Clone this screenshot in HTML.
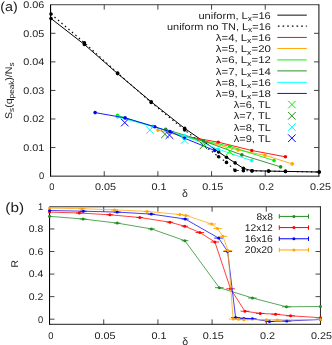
<!DOCTYPE html>
<html><head><meta charset="utf-8"><title>chart</title>
<style>
html,body{margin:0;padding:0;background:#fff;}
svg{display:block;will-change:transform;font-family:"Liberation Sans",sans-serif;}
svg text{font-family:"Liberation Sans",sans-serif;fill:#1c1c1c;text-rendering:geometricPrecision;}
</style></head>
<body>
<svg width="332" height="345" viewBox="0 0 332 345">
<rect x="0" y="0" width="332" height="345" fill="#fff"/>
<line x1="50.55" y1="4.45" x2="50.55" y2="176.60" stroke="#000" stroke-width="1.1" />
<line x1="50.55" y1="4.72" x2="319.30" y2="4.72" stroke="#000" stroke-width="0.75" />
<line x1="318.90" y1="4.45" x2="318.90" y2="176.60" stroke="#111" stroke-width="1.05" />
<line x1="50.05" y1="176.15" x2="319.30" y2="176.15" stroke="#111" stroke-width="0.95" />
<line x1="104.22" y1="176.10" x2="104.22" y2="171.20" stroke="#222" stroke-width="0.85" />
<line x1="104.22" y1="4.75" x2="104.22" y2="9.65" stroke="#222" stroke-width="0.85" />
<line x1="157.89" y1="176.10" x2="157.89" y2="171.20" stroke="#222" stroke-width="0.85" />
<line x1="157.89" y1="4.75" x2="157.89" y2="9.65" stroke="#222" stroke-width="0.85" />
<line x1="211.56" y1="176.10" x2="211.56" y2="171.20" stroke="#222" stroke-width="0.85" />
<line x1="211.56" y1="4.75" x2="211.56" y2="9.65" stroke="#222" stroke-width="0.85" />
<line x1="265.23" y1="176.10" x2="265.23" y2="171.20" stroke="#222" stroke-width="0.85" />
<line x1="265.23" y1="4.75" x2="265.23" y2="9.65" stroke="#222" stroke-width="0.85" />
<line x1="50.55" y1="147.54" x2="55.45" y2="147.54" stroke="#222" stroke-width="0.85" />
<line x1="318.90" y1="147.54" x2="314.00" y2="147.54" stroke="#222" stroke-width="0.85" />
<line x1="50.55" y1="118.98" x2="55.45" y2="118.98" stroke="#222" stroke-width="0.85" />
<line x1="318.90" y1="118.98" x2="314.00" y2="118.98" stroke="#222" stroke-width="0.85" />
<line x1="50.55" y1="90.42" x2="55.45" y2="90.42" stroke="#222" stroke-width="0.85" />
<line x1="318.90" y1="90.42" x2="314.00" y2="90.42" stroke="#222" stroke-width="0.85" />
<line x1="50.55" y1="61.87" x2="55.45" y2="61.87" stroke="#222" stroke-width="0.85" />
<line x1="318.90" y1="61.87" x2="314.00" y2="61.87" stroke="#222" stroke-width="0.85" />
<line x1="50.55" y1="33.31" x2="55.45" y2="33.31" stroke="#222" stroke-width="0.85" />
<line x1="318.90" y1="33.31" x2="314.00" y2="33.31" stroke="#222" stroke-width="0.85" />
<text x="44.2" y="179.4" font-size="9.7" text-anchor="end" textLength="5.2" lengthAdjust="spacingAndGlyphs" >0</text>
<text x="44.2" y="150.84166666666667" font-size="9.7" text-anchor="end" textLength="21" lengthAdjust="spacingAndGlyphs" >0.01</text>
<text x="44.2" y="122.28333333333332" font-size="9.7" text-anchor="end" textLength="21" lengthAdjust="spacingAndGlyphs" >0.02</text>
<text x="44.2" y="93.725" font-size="9.7" text-anchor="end" textLength="21" lengthAdjust="spacingAndGlyphs" >0.03</text>
<text x="44.2" y="65.16666666666664" font-size="9.7" text-anchor="end" textLength="21" lengthAdjust="spacingAndGlyphs" >0.04</text>
<text x="44.2" y="36.608333333333334" font-size="9.7" text-anchor="end" textLength="21" lengthAdjust="spacingAndGlyphs" >0.05</text>
<text x="44.2" y="8.05" font-size="9.7" text-anchor="end" textLength="21" lengthAdjust="spacingAndGlyphs" >0.06</text>
<text x="51.75" y="190.4" font-size="9.7" text-anchor="middle" textLength="5.2" lengthAdjust="spacingAndGlyphs" >0</text>
<text x="105.42" y="190.4" font-size="9.7" text-anchor="middle" textLength="21" lengthAdjust="spacingAndGlyphs" >0.05</text>
<text x="159.08999999999997" y="190.4" font-size="9.7" text-anchor="middle" textLength="15" lengthAdjust="spacingAndGlyphs" >0.1</text>
<text x="212.76" y="190.4" font-size="9.7" text-anchor="middle" textLength="21" lengthAdjust="spacingAndGlyphs" >0.15</text>
<text x="266.42999999999995" y="190.4" font-size="9.7" text-anchor="middle" textLength="15" lengthAdjust="spacingAndGlyphs" >0.2</text>
<text x="320.5" y="190.4" font-size="9.7" text-anchor="middle" textLength="21" lengthAdjust="spacingAndGlyphs" >0.25</text>
<text x="185" y="197" font-size="10.5" text-anchor="middle" >δ</text>
<text x="0.3" y="10.8" font-size="13" text-anchor="start" textLength="17.5" lengthAdjust="spacingAndGlyphs" >(a)</text>
<g transform="translate(12,119) rotate(-90)">
<text x="0" y="0" font-size="9.7" textLength="56.5" lengthAdjust="spacingAndGlyphs">S<tspan font-size="7.4" dy="2.3">s</tspan><tspan dy="-2.3">(q</tspan><tspan font-size="7.4" dy="2.3">peak</tspan><tspan dy="-2.3">)/N</tspan><tspan font-size="7.4" dy="2.3">s</tspan></text>
</g>
<polyline points="51.00,18.50 84.40,44.50 117.60,73.60 151.20,101.80 184.70,128.40 218.60,151.90 226.50,157.30 235.10,162.90 243.40,168.40 252.00,170.70 268.60,171.10 285.50,171.40 319.20,172.00" fill="none" stroke="#000" stroke-width="1.0" stroke-linejoin="round" />
<circle cx="51.00" cy="18.50" r="1.8" fill="#000"/>
<circle cx="84.40" cy="44.50" r="1.8" fill="#000"/>
<circle cx="117.60" cy="73.60" r="1.8" fill="#000"/>
<circle cx="151.20" cy="101.80" r="1.8" fill="#000"/>
<circle cx="184.70" cy="128.40" r="1.8" fill="#000"/>
<circle cx="218.60" cy="151.90" r="1.8" fill="#000"/>
<circle cx="226.50" cy="157.30" r="1.8" fill="#000"/>
<circle cx="235.10" cy="162.90" r="1.8" fill="#000"/>
<circle cx="243.40" cy="168.40" r="1.8" fill="#000"/>
<circle cx="252.00" cy="170.70" r="1.8" fill="#000"/>
<circle cx="268.60" cy="171.10" r="1.8" fill="#000"/>
<circle cx="285.50" cy="171.40" r="1.8" fill="#000"/>
<circle cx="319.20" cy="172.00" r="1.8" fill="#000"/>
<polyline points="51.00,14.00 84.40,42.80 117.60,73.00 151.20,102.50 184.70,130.00 218.60,156.80 226.50,162.40 235.10,170.40 243.40,170.70 252.00,170.90 268.60,171.10 285.50,171.40 319.20,172.00" fill="none" stroke="#000" stroke-width="1.1" stroke-linejoin="round" stroke-dasharray="1.5 3.1"/>
<circle cx="51.00" cy="14.00" r="1.8" fill="#000"/>
<circle cx="84.40" cy="42.80" r="1.8" fill="#000"/>
<circle cx="117.60" cy="73.00" r="1.8" fill="#000"/>
<circle cx="151.20" cy="102.50" r="1.8" fill="#000"/>
<circle cx="184.70" cy="130.00" r="1.8" fill="#000"/>
<circle cx="218.60" cy="156.80" r="1.8" fill="#000"/>
<circle cx="226.50" cy="162.40" r="1.8" fill="#000"/>
<circle cx="235.10" cy="170.40" r="1.8" fill="#000"/>
<circle cx="243.40" cy="170.70" r="1.8" fill="#000"/>
<circle cx="252.00" cy="170.90" r="1.8" fill="#000"/>
<circle cx="268.60" cy="171.10" r="1.8" fill="#000"/>
<circle cx="285.50" cy="171.40" r="1.8" fill="#000"/>
<circle cx="319.20" cy="172.00" r="1.8" fill="#000"/>
<polyline points="185.00,136.20 218.30,142.20 251.80,150.50 285.40,156.80" fill="none" stroke="#ff0000" stroke-width="0.9" stroke-linejoin="round" />
<circle cx="218.30" cy="142.20" r="1.8" fill="#ff0000"/>
<circle cx="251.80" cy="150.50" r="1.8" fill="#ff0000"/>
<circle cx="285.40" cy="156.80" r="1.8" fill="#ff0000"/>
<polyline points="157.90,130.10 185.00,136.60 211.80,143.40 238.10,150.10 265.10,155.30 292.20,163.90" fill="none" stroke="#ffa500" stroke-width="0.9" stroke-linejoin="round" />
<circle cx="157.90" cy="130.10" r="1.8" fill="#ffa500"/>
<circle cx="238.10" cy="150.10" r="1.8" fill="#ffa500"/>
<circle cx="265.10" cy="155.30" r="1.8" fill="#ffa500"/>
<circle cx="292.20" cy="163.90" r="1.8" fill="#ffa500"/>
<polyline points="117.50,115.40 152.00,126.00 185.00,136.80 229.80,146.30 274.10,160.60" fill="none" stroke="#00f000" stroke-width="0.9" stroke-linejoin="round" />
<circle cx="117.50" cy="115.40" r="1.8" fill="#00f000"/>
<circle cx="229.80" cy="146.30" r="1.8" fill="#00f000"/>
<circle cx="274.10" cy="160.60" r="1.8" fill="#00f000"/>
<polyline points="165.70,129.40 203.40,140.90 241.90,154.90 280.60,166.90" fill="none" stroke="#228b22" stroke-width="0.9" stroke-linejoin="round" />
<circle cx="165.70" cy="129.40" r="1.8" fill="#228b22"/>
<circle cx="203.40" cy="140.90" r="1.8" fill="#228b22"/>
<circle cx="241.90" cy="154.90" r="1.8" fill="#228b22"/>
<circle cx="280.60" cy="166.90" r="1.8" fill="#228b22"/>
<polyline points="117.50,117.00 152.60,126.40 184.50,135.90 218.30,149.30 251.70,160.60" fill="none" stroke="#00ffff" stroke-width="0.9" stroke-linejoin="round" />
<circle cx="117.50" cy="117.00" r="1.8" fill="#00ffff"/>
<circle cx="152.60" cy="126.40" r="1.8" fill="#00ffff"/>
<circle cx="184.50" cy="135.90" r="1.8" fill="#00ffff"/>
<circle cx="218.30" cy="149.30" r="1.8" fill="#00ffff"/>
<circle cx="251.70" cy="160.60" r="1.8" fill="#00ffff"/>
<polyline points="95.10,112.60 125.10,117.90 154.80,126.80 169.90,131.60 184.50,138.20 214.70,150.50" fill="none" stroke="#0000ff" stroke-width="0.9" stroke-linejoin="round" />
<circle cx="95.10" cy="112.60" r="1.8" fill="#0000ff"/>
<circle cx="125.10" cy="117.90" r="1.8" fill="#0000ff"/>
<circle cx="154.80" cy="126.80" r="1.8" fill="#0000ff"/>
<circle cx="169.90" cy="131.60" r="1.8" fill="#0000ff"/>
<circle cx="184.50" cy="138.20" r="1.8" fill="#0000ff"/>
<circle cx="214.70" cy="150.50" r="1.8" fill="#0000ff"/>
<path d="M226.00 147.80L233.60 155.40M226.00 155.40L233.60 147.80" stroke="#00f000" stroke-width="1" fill="none"/>
<path d="M161.20 130.50L168.80 138.10M161.20 138.10L168.80 130.50" stroke="#228b22" stroke-width="1" fill="none"/>
<path d="M199.60 141.60L207.20 149.20M199.60 149.20L207.20 141.60" stroke="#228b22" stroke-width="1" fill="none"/>
<path d="M146.10 126.30L153.70 133.90M146.10 133.90L153.70 126.30" stroke="#00ffff" stroke-width="1" fill="none"/>
<path d="M180.80 136.30L188.40 143.90M180.80 143.90L188.40 136.30" stroke="#00ffff" stroke-width="1" fill="none"/>
<path d="M121.00 118.80L128.60 126.40M121.00 126.40L128.60 118.80" stroke="#0000ff" stroke-width="1" fill="none"/>
<path d="M165.70 131.30L173.30 138.90M165.70 138.90L173.30 131.30" stroke="#0000ff" stroke-width="1" fill="none"/>
<text x="270.8" y="18.8" font-size="9.7" text-anchor="end" textLength="72.4" lengthAdjust="spacingAndGlyphs" >uniform, L<tspan font-size="7.4" dy="2.3">x</tspan><tspan dy="-2.3">=16</tspan></text>
<line x1="277.30" y1="15.15" x2="306.80" y2="15.15" stroke="#000" stroke-width="0.95" />
<text x="270.8" y="29.97" font-size="9.7" text-anchor="end" textLength="103.8" lengthAdjust="spacingAndGlyphs" >uniform no TN, L<tspan font-size="7.4" dy="2.3">x</tspan><tspan dy="-2.3">=16</tspan></text>
<line x1="277.30" y1="26.20" x2="306.80" y2="26.20" stroke="#000" stroke-width="1.2" stroke-dasharray="1.6 3.06" stroke-dashoffset="-0.6"/>
<text x="270.8" y="41.14" font-size="9.7" text-anchor="end" textLength="55" lengthAdjust="spacingAndGlyphs" >λ=4, L<tspan font-size="7.4" dy="2.3">x</tspan><tspan dy="-2.3">=16</tspan></text>
<line x1="277.30" y1="37.45" x2="306.80" y2="37.45" stroke="#ff0000" stroke-width="0.95" />
<text x="270.8" y="52.31" font-size="9.7" text-anchor="end" textLength="55" lengthAdjust="spacingAndGlyphs" >λ=5, L<tspan font-size="7.4" dy="2.3">x</tspan><tspan dy="-2.3">=20</tspan></text>
<line x1="277.30" y1="48.50" x2="306.80" y2="48.50" stroke="#ffa500" stroke-width="0.95" />
<text x="270.8" y="63.480000000000004" font-size="9.7" text-anchor="end" textLength="55" lengthAdjust="spacingAndGlyphs" >λ=6, L<tspan font-size="7.4" dy="2.3">x</tspan><tspan dy="-2.3">=12</tspan></text>
<line x1="277.30" y1="59.90" x2="306.80" y2="59.90" stroke="#00f000" stroke-width="0.95" />
<text x="270.8" y="74.65" font-size="9.7" text-anchor="end" textLength="55" lengthAdjust="spacingAndGlyphs" >λ=7, L<tspan font-size="7.4" dy="2.3">x</tspan><tspan dy="-2.3">=14</tspan></text>
<line x1="277.30" y1="70.90" x2="306.80" y2="70.90" stroke="#228b22" stroke-width="0.95" />
<text x="270.8" y="85.82" font-size="9.7" text-anchor="end" textLength="55" lengthAdjust="spacingAndGlyphs" >λ=8, L<tspan font-size="7.4" dy="2.3">x</tspan><tspan dy="-2.3">=16</tspan></text>
<line x1="277.30" y1="82.35" x2="306.80" y2="82.35" stroke="#00ffff" stroke-width="0.95" />
<text x="270.8" y="96.99" font-size="9.7" text-anchor="end" textLength="55" lengthAdjust="spacingAndGlyphs" >λ=9, L<tspan font-size="7.4" dy="2.3">x</tspan><tspan dy="-2.3">=18</tspan></text>
<line x1="277.30" y1="93.45" x2="306.80" y2="93.45" stroke="#0000ff" stroke-width="0.95" />
<text x="270.8" y="108.16" font-size="9.7" text-anchor="end" textLength="37" lengthAdjust="spacingAndGlyphs" >λ=6, TL</text>
<path d="M288.10 100.75L295.70 108.35M288.10 108.35L295.70 100.75" stroke="#00f000" stroke-width="1" fill="none"/>
<text x="270.8" y="119.33" font-size="9.7" text-anchor="end" textLength="37" lengthAdjust="spacingAndGlyphs" >λ=7, TL</text>
<path d="M288.10 112.00L295.70 119.60M288.10 119.60L295.70 112.00" stroke="#228b22" stroke-width="1" fill="none"/>
<text x="270.8" y="130.5" font-size="9.7" text-anchor="end" textLength="37" lengthAdjust="spacingAndGlyphs" >λ=8, TL</text>
<path d="M288.10 123.25L295.70 130.85M288.10 130.85L295.70 123.25" stroke="#00ffff" stroke-width="1" fill="none"/>
<text x="270.8" y="141.67" font-size="9.7" text-anchor="end" textLength="37" lengthAdjust="spacingAndGlyphs" >λ=9, TL</text>
<path d="M288.10 134.40L295.70 142.00M288.10 142.00L295.70 134.40" stroke="#0000ff" stroke-width="1" fill="none"/>
<line x1="49.55" y1="206.40" x2="49.55" y2="324.80" stroke="#000" stroke-width="1.05" />
<line x1="49.55" y1="206.80" x2="320.85" y2="206.80" stroke="#111" stroke-width="0.9" />
<line x1="320.45" y1="206.40" x2="320.45" y2="324.80" stroke="#222" stroke-width="1.0" />
<line x1="49.05" y1="324.30" x2="320.85" y2="324.30" stroke="#111" stroke-width="0.95" />
<line x1="103.73" y1="324.30" x2="103.73" y2="319.40" stroke="#222" stroke-width="0.85" />
<line x1="103.73" y1="206.80" x2="103.73" y2="211.70" stroke="#222" stroke-width="0.85" />
<line x1="157.91" y1="324.30" x2="157.91" y2="319.40" stroke="#222" stroke-width="0.85" />
<line x1="157.91" y1="206.80" x2="157.91" y2="211.70" stroke="#222" stroke-width="0.85" />
<line x1="212.09" y1="324.30" x2="212.09" y2="319.40" stroke="#222" stroke-width="0.85" />
<line x1="212.09" y1="206.80" x2="212.09" y2="211.70" stroke="#222" stroke-width="0.85" />
<line x1="266.27" y1="324.30" x2="266.27" y2="319.40" stroke="#222" stroke-width="0.85" />
<line x1="266.27" y1="206.80" x2="266.27" y2="211.70" stroke="#222" stroke-width="0.85" />
<line x1="49.55" y1="319.20" x2="54.45" y2="319.20" stroke="#222" stroke-width="0.85" />
<line x1="320.45" y1="319.20" x2="315.55" y2="319.20" stroke="#222" stroke-width="0.85" />
<line x1="49.55" y1="296.64" x2="54.45" y2="296.64" stroke="#222" stroke-width="0.85" />
<line x1="320.45" y1="296.64" x2="315.55" y2="296.64" stroke="#222" stroke-width="0.85" />
<line x1="49.55" y1="274.08" x2="54.45" y2="274.08" stroke="#222" stroke-width="0.85" />
<line x1="320.45" y1="274.08" x2="315.55" y2="274.08" stroke="#222" stroke-width="0.85" />
<line x1="49.55" y1="251.52" x2="54.45" y2="251.52" stroke="#222" stroke-width="0.85" />
<line x1="320.45" y1="251.52" x2="315.55" y2="251.52" stroke="#222" stroke-width="0.85" />
<line x1="49.55" y1="228.96" x2="54.45" y2="228.96" stroke="#222" stroke-width="0.85" />
<line x1="320.45" y1="228.96" x2="315.55" y2="228.96" stroke="#222" stroke-width="0.85" />
<text x="43.3" y="322.5" font-size="9.7" text-anchor="end" textLength="5.2" lengthAdjust="spacingAndGlyphs" >0</text>
<text x="43.3" y="299.94" font-size="9.7" text-anchor="end" textLength="14.5" lengthAdjust="spacingAndGlyphs" >0.2</text>
<text x="43.3" y="277.38" font-size="9.7" text-anchor="end" textLength="14.5" lengthAdjust="spacingAndGlyphs" >0.4</text>
<text x="43.3" y="254.82" font-size="9.7" text-anchor="end" textLength="14.5" lengthAdjust="spacingAndGlyphs" >0.6</text>
<text x="43.3" y="232.26" font-size="9.7" text-anchor="end" textLength="14.5" lengthAdjust="spacingAndGlyphs" >0.8</text>
<text x="43.3" y="209.70000000000002" font-size="9.7" text-anchor="end" textLength="5.2" lengthAdjust="spacingAndGlyphs" >1</text>
<text x="50.75" y="339.2" font-size="9.7" text-anchor="middle" textLength="5.2" lengthAdjust="spacingAndGlyphs" >0</text>
<text x="104.92999999999999" y="339.2" font-size="9.7" text-anchor="middle" textLength="21" lengthAdjust="spacingAndGlyphs" >0.05</text>
<text x="159.10999999999999" y="339.2" font-size="9.7" text-anchor="middle" textLength="15" lengthAdjust="spacingAndGlyphs" >0.1</text>
<text x="213.29000000000002" y="339.2" font-size="9.7" text-anchor="middle" textLength="21" lengthAdjust="spacingAndGlyphs" >0.15</text>
<text x="267.46999999999997" y="339.2" font-size="9.7" text-anchor="middle" textLength="15" lengthAdjust="spacingAndGlyphs" >0.2</text>
<text x="321.5" y="339.2" font-size="9.7" text-anchor="middle" textLength="21" lengthAdjust="spacingAndGlyphs" >0.25</text>
<text x="185.2" y="344.6" font-size="10.5" text-anchor="middle" >δ</text>
<text x="5.3" y="212.4" font-size="13.3" text-anchor="start" textLength="18.7" lengthAdjust="spacingAndGlyphs" >(b)</text>
<g transform="translate(18,267.5) rotate(-90)"><text x="0" y="0" font-size="9.7" textLength="7.5" lengthAdjust="spacingAndGlyphs">R</text></g>
<polyline points="49.55,216.30 83.00,219.00 117.20,223.10 151.40,228.90 184.90,240.70 219.30,287.70 252.40,298.00 286.40,306.80 320.45,306.50" fill="none" stroke="#228b22" stroke-width="0.75" stroke-linejoin="round" />
<circle cx="49.55" cy="216.30" r="1.5" fill="#228b22"/>
<circle cx="83.00" cy="219.00" r="1.5" fill="#228b22"/>
<circle cx="117.20" cy="223.10" r="1.5" fill="#228b22"/>
<circle cx="151.40" cy="228.90" r="1.5" fill="#228b22"/>
<circle cx="184.90" cy="240.70" r="1.5" fill="#228b22"/>
<circle cx="219.30" cy="287.70" r="1.5" fill="#228b22"/>
<circle cx="252.40" cy="298.00" r="1.5" fill="#228b22"/>
<circle cx="286.40" cy="306.80" r="1.5" fill="#228b22"/>
<circle cx="320.45" cy="306.50" r="1.5" fill="#228b22"/>
<line x1="79.60" y1="219.00" x2="86.40" y2="219.00" stroke="#228b22" stroke-width="0.85" />
<line x1="113.80" y1="223.10" x2="120.60" y2="223.10" stroke="#228b22" stroke-width="0.85" />
<line x1="148.00" y1="228.90" x2="154.80" y2="228.90" stroke="#228b22" stroke-width="0.85" />
<line x1="181.50" y1="240.70" x2="188.30" y2="240.70" stroke="#228b22" stroke-width="0.85" />
<line x1="215.00" y1="287.70" x2="223.60" y2="287.70" stroke="#228b22" stroke-width="0.85" />
<line x1="248.10" y1="298.00" x2="256.70" y2="298.00" stroke="#228b22" stroke-width="0.85" />
<line x1="282.10" y1="306.80" x2="290.70" y2="306.80" stroke="#228b22" stroke-width="0.85" />
<polyline points="49.55,212.10 79.30,213.00 109.90,214.80 139.80,217.50 169.90,222.20 184.70,226.20 199.80,232.50 214.90,242.00 230.50,288.80 244.90,311.20 260.20,313.40 275.60,314.20 290.50,315.80 320.45,317.70" fill="none" stroke="#ff0000" stroke-width="0.75" stroke-linejoin="round" />
<circle cx="49.55" cy="212.10" r="1.5" fill="#ff0000"/>
<circle cx="79.30" cy="213.00" r="1.5" fill="#ff0000"/>
<circle cx="109.90" cy="214.80" r="1.5" fill="#ff0000"/>
<circle cx="139.80" cy="217.50" r="1.5" fill="#ff0000"/>
<circle cx="169.90" cy="222.20" r="1.5" fill="#ff0000"/>
<circle cx="184.70" cy="226.20" r="1.5" fill="#ff0000"/>
<circle cx="199.80" cy="232.50" r="1.5" fill="#ff0000"/>
<circle cx="214.90" cy="242.00" r="1.5" fill="#ff0000"/>
<circle cx="230.50" cy="288.80" r="1.5" fill="#ff0000"/>
<circle cx="244.90" cy="311.20" r="1.5" fill="#ff0000"/>
<circle cx="260.20" cy="313.40" r="1.5" fill="#ff0000"/>
<circle cx="275.60" cy="314.20" r="1.5" fill="#ff0000"/>
<circle cx="290.50" cy="315.80" r="1.5" fill="#ff0000"/>
<circle cx="320.45" cy="317.70" r="1.5" fill="#ff0000"/>
<line x1="75.90" y1="213.00" x2="82.70" y2="213.00" stroke="#ff0000" stroke-width="0.85" />
<line x1="106.50" y1="214.80" x2="113.30" y2="214.80" stroke="#ff0000" stroke-width="0.85" />
<line x1="136.40" y1="217.50" x2="143.20" y2="217.50" stroke="#ff0000" stroke-width="0.85" />
<line x1="166.50" y1="222.20" x2="173.30" y2="222.20" stroke="#ff0000" stroke-width="0.85" />
<line x1="181.30" y1="226.20" x2="188.10" y2="226.20" stroke="#ff0000" stroke-width="0.85" />
<line x1="195.50" y1="232.50" x2="204.10" y2="232.50" stroke="#ff0000" stroke-width="0.85" />
<line x1="210.60" y1="242.00" x2="219.20" y2="242.00" stroke="#ff0000" stroke-width="0.85" />
<line x1="226.20" y1="288.80" x2="234.80" y2="288.80" stroke="#ff0000" stroke-width="0.85" />
<line x1="240.60" y1="311.20" x2="249.20" y2="311.20" stroke="#ff0000" stroke-width="0.85" />
<line x1="255.90" y1="313.40" x2="264.50" y2="313.40" stroke="#ff0000" stroke-width="0.85" />
<line x1="271.30" y1="314.20" x2="279.90" y2="314.20" stroke="#ff0000" stroke-width="0.85" />
<line x1="286.20" y1="315.80" x2="294.80" y2="315.80" stroke="#ff0000" stroke-width="0.85" />
<polyline points="49.55,210.50 83.30,211.20 117.20,212.10 151.30,214.10 185.20,219.00 218.60,238.10 227.60,251.40 235.60,317.50 243.90,318.40 252.40,318.80 269.50,321.50 286.80,321.00 320.45,319.50" fill="none" stroke="#0000ff" stroke-width="0.75" stroke-linejoin="round" />
<circle cx="49.55" cy="210.50" r="1.5" fill="#0000ff"/>
<circle cx="83.30" cy="211.20" r="1.5" fill="#0000ff"/>
<circle cx="117.20" cy="212.10" r="1.5" fill="#0000ff"/>
<circle cx="151.30" cy="214.10" r="1.5" fill="#0000ff"/>
<circle cx="185.20" cy="219.00" r="1.5" fill="#0000ff"/>
<circle cx="218.60" cy="238.10" r="1.5" fill="#0000ff"/>
<circle cx="227.60" cy="251.40" r="1.5" fill="#0000ff"/>
<circle cx="235.60" cy="317.50" r="1.5" fill="#0000ff"/>
<circle cx="243.90" cy="318.40" r="1.5" fill="#0000ff"/>
<circle cx="252.40" cy="318.80" r="1.5" fill="#0000ff"/>
<circle cx="269.50" cy="321.50" r="1.5" fill="#0000ff"/>
<circle cx="286.80" cy="321.00" r="1.5" fill="#0000ff"/>
<circle cx="320.45" cy="319.50" r="1.5" fill="#0000ff"/>
<line x1="79.90" y1="211.20" x2="86.70" y2="211.20" stroke="#0000ff" stroke-width="0.85" />
<line x1="113.80" y1="212.10" x2="120.60" y2="212.10" stroke="#0000ff" stroke-width="0.85" />
<line x1="147.90" y1="214.10" x2="154.70" y2="214.10" stroke="#0000ff" stroke-width="0.85" />
<line x1="181.80" y1="219.00" x2="188.60" y2="219.00" stroke="#0000ff" stroke-width="0.85" />
<line x1="214.30" y1="238.10" x2="222.90" y2="238.10" stroke="#0000ff" stroke-width="0.85" />
<line x1="223.30" y1="251.40" x2="231.90" y2="251.40" stroke="#0000ff" stroke-width="0.85" />
<line x1="231.30" y1="317.50" x2="239.90" y2="317.50" stroke="#0000ff" stroke-width="0.85" />
<line x1="239.60" y1="318.40" x2="248.20" y2="318.40" stroke="#0000ff" stroke-width="0.85" />
<line x1="248.10" y1="318.80" x2="256.70" y2="318.80" stroke="#0000ff" stroke-width="0.85" />
<line x1="265.20" y1="321.50" x2="273.80" y2="321.50" stroke="#0000ff" stroke-width="0.85" />
<line x1="282.50" y1="321.00" x2="291.10" y2="321.00" stroke="#0000ff" stroke-width="0.85" />
<polyline points="49.55,208.10 82.00,208.70 114.50,209.90 147.00,211.40 179.80,214.50 185.80,215.40 211.70,224.00 217.50,228.50 222.90,236.30 228.00,250.50 233.10,319.00 238.50,319.30 243.90,319.70 266.50,319.70 277.50,319.90 320.45,319.50" fill="none" stroke="#ffa500" stroke-width="0.75" stroke-linejoin="round" />
<circle cx="49.55" cy="208.10" r="1.5" fill="#ffa500"/>
<circle cx="82.00" cy="208.70" r="1.5" fill="#ffa500"/>
<circle cx="114.50" cy="209.90" r="1.5" fill="#ffa500"/>
<circle cx="147.00" cy="211.40" r="1.5" fill="#ffa500"/>
<circle cx="179.80" cy="214.50" r="1.5" fill="#ffa500"/>
<circle cx="185.80" cy="215.40" r="1.5" fill="#ffa500"/>
<circle cx="211.70" cy="224.00" r="1.5" fill="#ffa500"/>
<circle cx="217.50" cy="228.50" r="1.5" fill="#ffa500"/>
<circle cx="222.90" cy="236.30" r="1.5" fill="#ffa500"/>
<circle cx="228.00" cy="250.50" r="1.5" fill="#ffa500"/>
<circle cx="233.10" cy="319.00" r="1.5" fill="#ffa500"/>
<circle cx="238.50" cy="319.30" r="1.5" fill="#ffa500"/>
<circle cx="243.90" cy="319.70" r="1.5" fill="#ffa500"/>
<circle cx="266.50" cy="319.70" r="1.5" fill="#ffa500"/>
<circle cx="277.50" cy="319.90" r="1.5" fill="#ffa500"/>
<circle cx="320.45" cy="319.50" r="1.5" fill="#ffa500"/>
<line x1="78.60" y1="208.70" x2="85.40" y2="208.70" stroke="#ffa500" stroke-width="0.85" />
<line x1="111.10" y1="209.90" x2="117.90" y2="209.90" stroke="#ffa500" stroke-width="0.85" />
<line x1="143.60" y1="211.40" x2="150.40" y2="211.40" stroke="#ffa500" stroke-width="0.85" />
<line x1="176.40" y1="214.50" x2="183.20" y2="214.50" stroke="#ffa500" stroke-width="0.85" />
<line x1="182.40" y1="215.40" x2="189.20" y2="215.40" stroke="#ffa500" stroke-width="0.85" />
<line x1="207.40" y1="224.00" x2="216.00" y2="224.00" stroke="#ffa500" stroke-width="0.85" />
<line x1="213.20" y1="228.50" x2="221.80" y2="228.50" stroke="#ffa500" stroke-width="0.85" />
<line x1="218.60" y1="236.30" x2="227.20" y2="236.30" stroke="#ffa500" stroke-width="0.85" />
<line x1="223.70" y1="250.50" x2="232.30" y2="250.50" stroke="#ffa500" stroke-width="0.85" />
<line x1="228.80" y1="319.00" x2="237.40" y2="319.00" stroke="#ffa500" stroke-width="0.85" />
<line x1="234.20" y1="319.30" x2="242.80" y2="319.30" stroke="#ffa500" stroke-width="0.85" />
<line x1="239.60" y1="319.70" x2="248.20" y2="319.70" stroke="#ffa500" stroke-width="0.85" />
<line x1="262.20" y1="319.70" x2="270.80" y2="319.70" stroke="#ffa500" stroke-width="0.85" />
<line x1="273.20" y1="319.90" x2="281.80" y2="319.90" stroke="#ffa500" stroke-width="0.85" />
<text x="272.9" y="219.8" font-size="9.7" text-anchor="end" textLength="16.5" lengthAdjust="spacingAndGlyphs" >8x8</text>
<line x1="279.30" y1="216.40" x2="308.50" y2="216.40" stroke="#228b22" stroke-width="1.0" />
<circle cx="293.9" cy="216.4" r="1.5" fill="#228b22"/>
<line x1="279.30" y1="214.20" x2="279.30" y2="218.60" stroke="#228b22" stroke-width="1.0" />
<line x1="308.50" y1="214.20" x2="308.50" y2="218.60" stroke="#228b22" stroke-width="1.0" />
<text x="272.9" y="230.99" font-size="9.7" text-anchor="end" textLength="28.2" lengthAdjust="spacingAndGlyphs" >12x12</text>
<line x1="279.30" y1="227.59" x2="308.50" y2="227.59" stroke="#ff0000" stroke-width="1.0" />
<circle cx="293.9" cy="227.59" r="1.5" fill="#ff0000"/>
<line x1="279.30" y1="225.39" x2="279.30" y2="229.79" stroke="#ff0000" stroke-width="1.0" />
<line x1="308.50" y1="225.39" x2="308.50" y2="229.79" stroke="#ff0000" stroke-width="1.0" />
<text x="272.9" y="242.18" font-size="9.7" text-anchor="end" textLength="28.2" lengthAdjust="spacingAndGlyphs" >16x16</text>
<line x1="279.30" y1="238.78" x2="308.50" y2="238.78" stroke="#0000ff" stroke-width="1.0" />
<circle cx="293.9" cy="238.78" r="1.5" fill="#0000ff"/>
<line x1="279.30" y1="236.58" x2="279.30" y2="240.98" stroke="#0000ff" stroke-width="1.0" />
<line x1="308.50" y1="236.58" x2="308.50" y2="240.98" stroke="#0000ff" stroke-width="1.0" />
<text x="272.9" y="253.37" font-size="9.7" text-anchor="end" textLength="28.2" lengthAdjust="spacingAndGlyphs" >20x20</text>
<line x1="279.30" y1="249.97" x2="308.50" y2="249.97" stroke="#ffa500" stroke-width="1.0" />
<circle cx="293.9" cy="249.97" r="1.5" fill="#ffa500"/>
<line x1="279.30" y1="247.77" x2="279.30" y2="252.17" stroke="#ffa500" stroke-width="1.0" />
<line x1="308.50" y1="247.77" x2="308.50" y2="252.17" stroke="#ffa500" stroke-width="1.0" />
</svg>
</body></html>
